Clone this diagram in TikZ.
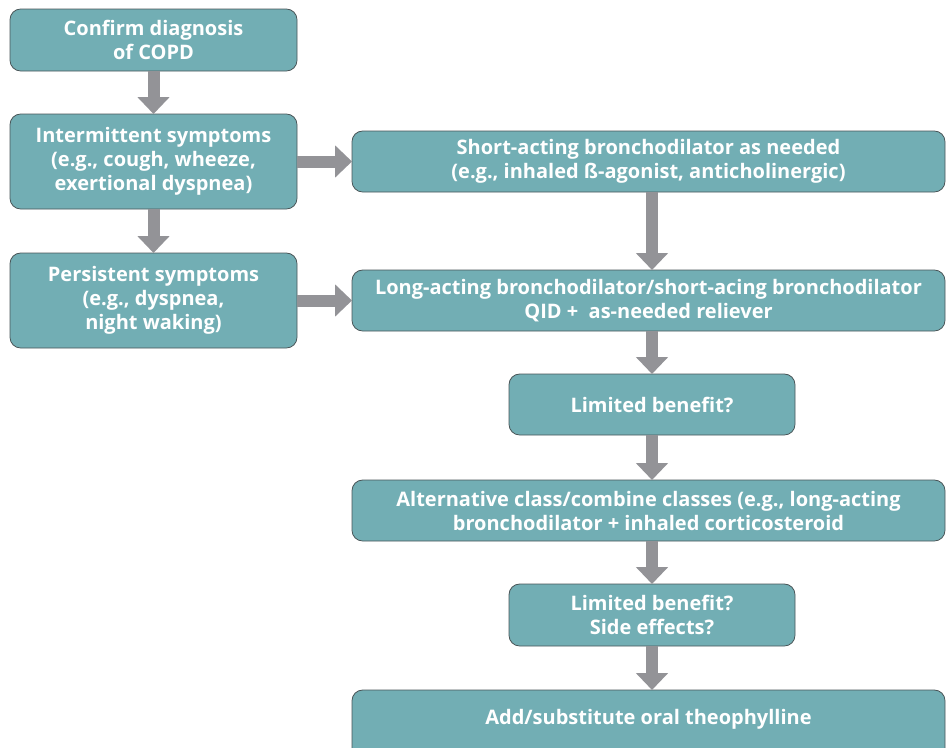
\documentclass[tikz,border=0pt]{standalone}
\usepackage{fontspec}
\setmainfont{Open Sans}
\usetikzlibrary{arrows.meta}
\definecolor{boxfill}{HTML}{72AEB4}
\definecolor{boxline}{HTML}{4A5658}
\definecolor{arrgray}{HTML}{939397}
\begin{document}
\begin{tikzpicture}[x=0.75pt,y=-0.75pt,
  box/.style={draw=boxline, line width=0.6pt, fill=boxfill, rounded corners=8pt,
    text=white, font=\fontsize{15}{18}\selectfont\bfseries, align=center,
    inner sep=0pt, outer sep=0pt},
  arr/.style={draw=arrgray, line width=9pt,
    -{Triangle[width=23.5pt,length=12.75pt]}}]
\useasboundingbox (0,0) rectangle (946,747);
\node[box, minimum width={287*0.75pt}, minimum height={62*0.75pt}] (B1) at (153.5,40) {Confirm diagnosis\\of COPD};
\node[box, minimum width={287*0.75pt}, minimum height={95*0.75pt}] (B2) at (153.5,161.5) {Intermittent symptoms\\(e.g., cough, wheeze,\\exertional dyspnea)};
\node[box, minimum width={287*0.75pt}, minimum height={95*0.75pt}] (B3) at (153.5,300.5) {Persistent symptoms\\(e.g., dyspnea,\\night waking)};
\node[box, minimum width={593*0.75pt}, minimum height={61*0.75pt}] (B4) at (648.5,161.5) {Short-acting bronchodilator as needed\\(e.g., inhaled ß-agonist, anticholinergic)};
\node[box, minimum width={593*0.75pt}, minimum height={61*0.75pt}] (B5) at (648.5,300.5) {Long-acting bronchodilator/short-acing bronchodilator\\QID + \ as-needed reliever};
\node[box, minimum width={286*0.75pt}, minimum height={61*0.75pt}] (B6) at (652,404.5) {Limited benefit?};
\node[box, minimum width={593*0.75pt}, minimum height={61*0.75pt}] (B7) at (648.5,510.5) {Alternative class/combine classes (e.g., long-acting\\bronchodilator + inhaled corticosteroid};
\node[box, minimum width={286*0.75pt}, minimum height={62*0.75pt}] (B8) at (652,615) {Limited benefit?\\Side effects?};
\node[box, minimum width={593*0.75pt}, minimum height={72*0.75pt}, text depth=0pt] (B9) at (648.5,726) {};
\node[text=white, font=\fontsize{15}{18}\selectfont\bfseries] (B9t) at (648.5,719) {Add/substitute oral theophylline};
\draw[arr] (B1.south) -- (B2.north);
\draw[arr] (B2.south) -- (B3.north);
\draw[arr] (B2.east) -- (B4.west);
\draw[arr] (B3.east) -- (B5.west);
\draw[arr] (B4.south -| B6.center) -- (B5.north -| B6.center);
\draw[arr] (B5.south -| B6.center) -- (B6.north);
\draw[arr] (B6.south) -- (B7.north -| B6.center);
\draw[arr] (B7.south -| B8.center) -- (B8.north);
\draw[arr] (B8.south) -- (B9.north -| B8.center);
\end{tikzpicture}
\end{document}
